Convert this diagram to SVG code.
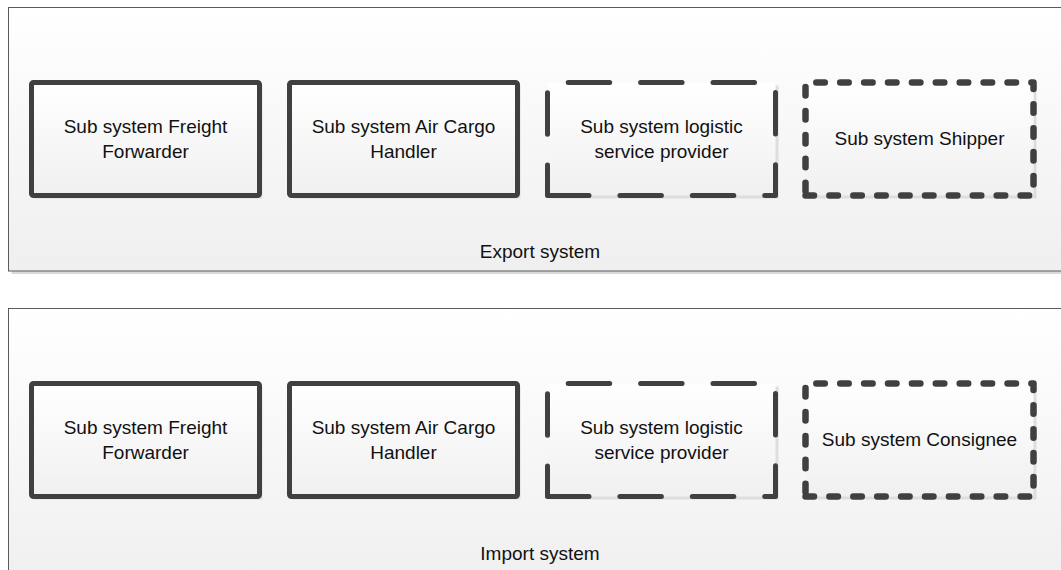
<svg xmlns="http://www.w3.org/2000/svg" width="1061" height="570" viewBox="0 0 1061 570">
  <defs>
    <linearGradient id="panelFill" x1="0" y1="0" x2="0" y2="1">
      <stop offset="0" stop-color="#ffffff"/>
      <stop offset="1" stop-color="#efefef"/>
    </linearGradient>
    <linearGradient id="boxFill" x1="0" y1="0" x2="0" y2="1">
      <stop offset="0" stop-color="#ffffff"/>
      <stop offset="1" stop-color="#f0f0f0"/>
    </linearGradient>
    <style>
      .panel { fill: url(#panelFill); stroke: #5a5a5a; stroke-width: 1; }
      .panel-shadow { fill: #d9d9d9; }
      .box { fill: url(#boxFill); stroke: #404040; stroke-width: 5; stroke-linejoin: round; stroke-linecap: round; }
      .longdash { stroke-dasharray: 41.5 30.9; }
      .shortdash { stroke-width: 6.5; stroke-dasharray: 8.5 15.4; }
      .box-shadow { fill: #dedede; }
      .label { font-family: "Liberation Sans", Arial, sans-serif; font-size: 19px; fill: #111111; text-anchor: middle; }
    </style>
  </defs>

  <rect width="1061" height="570" fill="#ffffff"/>

  <!-- Export system -->
  <g id="export-system">
    <rect class="panel-shadow" x="11.5" y="10.5" width="1070" height="263.5"/>
    <rect class="panel" x="8.5" y="7.5" width="1070" height="263.5"/>
    <text class="label" x="540" y="258">Export system</text>
  </g>

  <g id="export-freight-forwarder">
    <rect class="box-shadow" x="34.5" y="85.5" width="228" height="113"/>
    <rect class="box" x="31.5" y="82.5" width="228" height="113" rx="2"/>
    <text class="label" x="145.5" y="133">Sub system Freight</text>
    <text class="label" x="145.5" y="158">Forwarder</text>
  </g>

  <g id="export-air-cargo-handler">
    <rect class="box-shadow" x="292.5" y="85.5" width="228" height="113"/>
    <rect class="box" x="289.5" y="82.5" width="228" height="113" rx="2"/>
    <text class="label" x="403.5" y="133">Sub system Air Cargo</text>
    <text class="label" x="403.5" y="158">Handler</text>
  </g>

  <g id="export-logistic-service-provider">
    <rect class="box-shadow" x="550.5" y="85.5" width="228" height="113"/>
    <path class="box longdash" d="M547.5 195.5 H775.5 V82.5 H547.5 Z"/>
    <text class="label" x="661.5" y="133">Sub system logistic</text>
    <text class="label" x="661.5" y="158">service provider</text>
  </g>

  <g id="export-shipper">
    <rect class="box-shadow" x="808.5" y="85.5" width="228" height="113"/>
    <path class="box shortdash" d="M805.5 195.5 H1033.5 V82.5 H805.5 Z"/>
    <text class="label" x="919.5" y="145">Sub system Shipper</text>
  </g>

  <!-- Import system -->
  <g id="import-system">
    <rect class="panel" x="8.5" y="308.5" width="1070" height="280"/>
    <text class="label" x="540" y="560">Import system</text>
  </g>

  <g id="import-freight-forwarder">
    <rect class="box-shadow" x="34.5" y="386.5" width="228" height="113"/>
    <rect class="box" x="31.5" y="383.5" width="228" height="113" rx="2"/>
    <text class="label" x="145.5" y="434">Sub system Freight</text>
    <text class="label" x="145.5" y="459">Forwarder</text>
  </g>

  <g id="import-air-cargo-handler">
    <rect class="box-shadow" x="292.5" y="386.5" width="228" height="113"/>
    <rect class="box" x="289.5" y="383.5" width="228" height="113" rx="2"/>
    <text class="label" x="403.5" y="434">Sub system Air Cargo</text>
    <text class="label" x="403.5" y="459">Handler</text>
  </g>

  <g id="import-logistic-service-provider">
    <rect class="box-shadow" x="550.5" y="386.5" width="228" height="113"/>
    <path class="box longdash" d="M547.5 496.5 H775.5 V383.5 H547.5 Z"/>
    <text class="label" x="661.5" y="434">Sub system logistic</text>
    <text class="label" x="661.5" y="459">service provider</text>
  </g>

  <g id="import-consignee">
    <rect class="box-shadow" x="808.5" y="386.5" width="228" height="113"/>
    <path class="box shortdash" d="M805.5 496.5 H1033.5 V383.5 H805.5 Z"/>
    <text class="label" x="919.5" y="446">Sub system Consignee</text>
  </g>

  <!-- no connectors between the subsystems -->
  <g id="connectors"/>
</svg>
